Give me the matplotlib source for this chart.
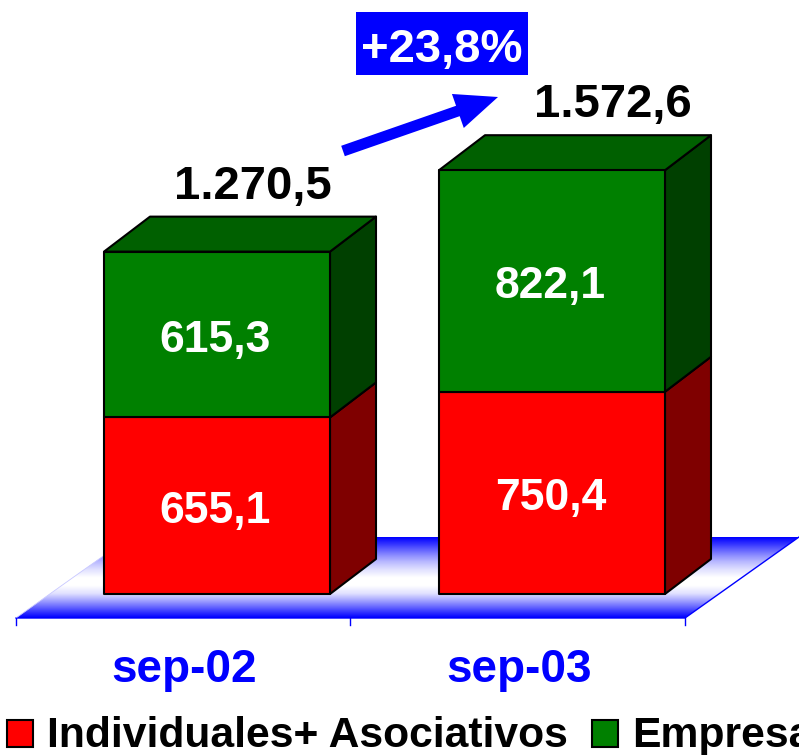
import numpy as np
import matplotlib
matplotlib.use('Agg')
import matplotlib.pyplot as plt
from matplotlib.patches import Polygon, Rectangle

categories = ['sep-02', 'sep-03']
individuales = [655.1, 750.4]
empresas = [615.3, 822.1]
totales = [1270.5, 1572.6]
segment_labels = [['655,1', '750,4'], ['615,3', '822,1']]
total_labels = ['1.270,5', '1.572,6']
growth_label = '+23,8%'
legend_labels = ['Individuales+ Asociativos', 'Empresas']

plt.rcParams['font.family'] = ['Liberation Sans', 'DejaVu Sans']
plt.rcParams['font.weight'] = 'bold'

W, H = 799, 755
fig = plt.figure(figsize=(W / 100, H / 100), dpi=100)
ax = fig.add_axes([0, 0, 1, 1])
ax.axis('off')

# escala: categoria 0 en x=217px, separacion 335px, valor 0 en y=594px
sx = 335.0
sy = 0.2695
ax.set_xlim(-217 / sx, (W - 217) / sx)
ax.set_ylim(-(H - 594) / sy, 594 / sy)


def px(x, y):
    return (x - 217) / sx, (594 - y) / sy


half = 113 / sx
dx = 46 / sx
dy = 35 / sy

# suelo con degradado
floor = Polygon([px(16, 618), px(685, 618), px(799, 537), px(130, 537)],
                closed=True, fc='none', ec='none', transform=ax.transData)
ax.add_patch(floor)
grad = np.array([0, .25, .5, .72, .88, 1, 1, .88, .6, .3, 0])
grad = np.interp(np.linspace(0, 10, 90), np.arange(11), grad)
rgb = np.ones((90, 1, 3))
rgb[:, 0, 0] = grad
rgb[:, 0, 1] = grad
x0, y0 = px(16, 618)
x1, y1 = px(799, 537)
im = ax.imshow(rgb, extent=[x0, x1, y0, y1], aspect='auto', origin='upper', zorder=1,
               interpolation='bilinear')
im.set_clip_path(floor)
ax.set_xlim(-217 / sx, (W - 217) / sx)
ax.set_ylim(-(H - 594) / sy, 594 / sy)

# bordes del suelo y marcas del eje
ax.plot(*zip(px(16, 618), px(685, 618), px(799, 537)), color='#0000ff', lw=1, zorder=2)
ax.plot(*zip(px(16, 618), px(130, 537)), color='#c8c8ff', lw=0.6, zorder=2)
for xt in [16, 350, 685]:
    ax.plot(*zip(px(xt, 618), px(xt, 625)), color='#0000ff', lw=1, zorder=2)

line = dict(ec='black', lw=1.5, joinstyle='round')


def box(xc, bottom, top, front, side, roof=None):
    l, r = xc - half, xc + half
    ax.add_patch(Polygon([(r, bottom), (r + dx, bottom + dy), (r + dx, top + dy), (r, top)],
                         fc=side, zorder=3, **line))
    if roof:
        ax.add_patch(Polygon([(l, top), (l + dx, top + dy), (r + dx, top + dy), (r, top)],
                             fc=roof, zorder=3, **line))
    ax.add_patch(Rectangle((l, bottom), r - l, top - bottom, fc=front, zorder=4, **line))


total_x = [253, 613]
label_dx = -1.5 / sx
label_dy = -5.5 / sy
for i in range(len(categories)):
    box(i, 0, individuales[i], '#ff0000', '#7f0000')
    box(i, individuales[i], individuales[i] + empresas[i], '#008000', '#004000', '#006000')
    ax.text(i + label_dx, individuales[i] / 2 + label_dy, segment_labels[0][i], color='white',
            fontsize=32, ha='center', va='center', zorder=5)
    ax.text(i + label_dx, individuales[i] + empresas[i] / 2 + label_dy, segment_labels[1][i],
            color='white', fontsize=32, ha='center', va='center', zorder=5)
    ax.text(px(total_x[i], 0)[0], totales[i] + 53 / sy, total_labels[i], color='black', fontsize=34,
            ha='center', va='baseline', zorder=5)
    xl, yl = px(0, 682)
    ax.text(i - 33 / sx, yl, categories[i], color='#0000ff', fontsize=33, ha='center',
            va='baseline', zorder=5)

# flecha y porcentaje
ax.annotate('', xy=px(498, 97), xytext=px(343, 151),
            arrowprops=dict(arrowstyle='simple,head_length=0.85,head_width=0.72,tail_width=0.22',
                            mutation_scale=36, fc='#0000ff', ec='#0000ff', lw=0,
                            shrinkA=0, shrinkB=0), zorder=5)
bx0, by0 = px(356, 75)
bx1, by1 = px(528, 12)
ax.add_patch(Rectangle((bx0, by0), bx1 - bx0, by1 - by0, fc='#0000ff', ec='none', zorder=5))
xg, yg = px(442, 62)
ax.text(xg, yg, growth_label, color='white', fontsize=34, ha='center', va='baseline', zorder=6)

# leyenda
for xs, xt, label, color in zip([7, 592], [47, 632], legend_labels, ['#ff0000', '#008000']):
    xa, ya = px(xs, 747)
    xb, yb = px(xs + 26, 720)
    ax.add_patch(Rectangle((xa, ya), xb - xa, yb - ya, fc=color, ec='black', lw=1.5, zorder=5))
    xq, yq = px(xt, 747)
    ax.text(xq, yq, label, color='black', fontsize=30.7, ha='left', va='baseline', zorder=5,
            clip_on=True)

fig.savefig('out.png', dpi=100, facecolor='white')
